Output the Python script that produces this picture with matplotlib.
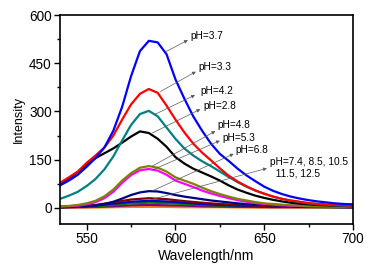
import numpy as np
import matplotlib
matplotlib.use('Agg')
import matplotlib.pyplot as plt
from matplotlib.ticker import MultipleLocator

plt.rcParams['font.family'] = ['Liberation Sans', 'DejaVu Sans']

# wavelength grid (nm) for the strong spectra
wl = np.arange(535, 701, 5)

# intensities
ph37 = [70, 85, 103, 128, 155, 188, 240, 315, 410, 488, 520, 515, 478, 400, 340, 285, 240, 200,
        168, 146, 122, 101, 83, 66, 53, 43, 35, 29, 24, 20, 17, 14, 12, 11]
ph33 = [78, 95, 113, 140, 163, 188, 225, 275, 322, 355, 370, 358, 318, 275, 235, 200, 172, 148,
        123, 100, 82, 67, 54, 44, 35, 28, 23, 19, 15, 12, 10, 9, 8, 7]
ph42 = [28, 38, 50, 68, 90, 120, 160, 210, 258, 292, 302, 285, 250, 215, 185, 163, 145, 130,
        113, 96, 80, 66, 54, 44, 35, 28, 22, 18, 14, 12, 10, 8, 7, 6]
ph28 = [72, 92, 112, 135, 155, 170, 185, 203, 222, 238, 233, 215, 190, 158, 138, 122, 110, 98,
        85, 70, 57, 47, 38, 31, 25, 20, 16, 13, 11, 9, 8, 7, 6, 5]
ph48 = [5, 6, 9, 14, 22, 36, 57, 85, 108, 125, 130, 125, 113, 95, 85, 75, 63, 52,
        43, 35, 28, 23, 18, 14, 12, 10, 8, 7, 6, 5, 5, 4, 4, 4]
ph53 = [4, 5, 7, 11, 18, 30, 50, 78, 102, 117, 121, 116, 103, 85, 75, 65, 54, 45,
        37, 30, 24, 19, 15, 12, 10, 8, 7, 6, 5, 5, 4, 4, 4, 4]
ph68 = [2, 3, 4, 5, 8, 12, 19, 29, 40, 48, 52, 51, 46, 40, 35, 31, 27, 23,
        20, 17, 14, 12, 10, 9, 8, 7, 6, 5, 5, 5, 4, 4, 4, 4]

# coarser grid for the weak spectra near the baseline
wl_low = [535, 545, 555, 565, 575, 585, 595, 605, 615, 625, 640, 655, 670, 685, 700]
ph74 = [3, 5, 9, 17, 26, 30, 27, 21, 16, 12, 8, 5, 4, 3, 3]
ph85 = [2, 4, 7, 13, 19, 22, 20, 16, 12, 9, 6, 4, 3, 3, 2]
ph105 = [2, 3, 5, 9, 14, 16, 15, 12, 9, 7, 5, 3, 3, 2, 2]
ph115 = [1, 2, 3, 5, 8, 9, 8, 7, 5, 4, 3, 2, 2, 2, 1]
ph125 = [0, 1, 1, 2, 3, 3, 3, 2, 2, 2, 1, 1, 1, 1, 1]

fig = plt.figure(figsize=(3.8, 2.65), dpi=100)
ax = fig.add_axes([0.158, 0.155, 0.771, 0.788])

lw = 1.6
ax.plot(wl_low, ph125, color='#ff8000', lw=lw)
ax.plot(wl_low, ph115, color='#800080', lw=lw)
ax.plot(wl_low, ph105, color='#008000', lw=lw)
ax.plot(wl_low, ph85, color='#0000cd', lw=lw)
ax.plot(wl_low, ph74, color='#800000', lw=lw)
ax.plot(wl, ph68, color='#000080', lw=lw)
ax.plot(wl, ph53, color='#ff00ff', lw=lw)
ax.plot(wl, ph48, color='#808000', lw=lw)
ax.plot(wl, ph28, color='black', lw=lw)
ax.plot(wl, ph42, color='#008080', lw=lw)
ax.plot(wl, ph33, color='red', lw=lw)
ax.plot(wl, ph37, color='blue', lw=lw)

# labels with pointer lines
arr = dict(arrowstyle='-|>', color='0.35', lw=0.5, mutation_scale=5, shrinkA=0, shrinkB=0)
notes = [
    ('pH=3.7', (594.5, 486), (607, 522), (608.5, 535)),
    ('pH=3.3', (591.5, 362), (611.5, 424), (613, 439)),
    ('pH=4.2', (588, 290), (611, 351), (614, 365)),
    ('pH=2.8', (587, 233), (614, 307), (615.5, 317)),
    ('pH=4.8', (587, 130), (622.5, 239), (623.5, 258)),
    ('pH=5.3', (587, 118), (625, 209), (626.2, 219)),
    ('pH=6.8', (587, 53), (632.8, 168), (633.8, 180)),
    ('pH=7.4, 8.5, 10.5\n  11.5, 12.5', (586, 25), (651.5, 123), (653.5, 124)),
]
for txt, start, tip, pos in notes:
    ax.annotate('', xy=tip, xytext=start, arrowprops=arr)
    ax.text(pos[0], pos[1], txt, fontsize=7.3, va='center', linespacing=1.2)

ax.set_xlim(535, 700)
ax.set_ylim(-50, 600)
ax.xaxis.set_major_locator(MultipleLocator(50))
ax.xaxis.set_minor_locator(MultipleLocator(25))
ax.yaxis.set_major_locator(MultipleLocator(150))
ax.yaxis.set_minor_locator(MultipleLocator(75))
ax.tick_params(which='major', length=4, width=1, labelsize=9.8, pad=2)
ax.tick_params(which='minor', length=2.5, width=1)
for s in ax.spines.values():
    s.set_linewidth(1.2)

ax.set_xlabel('Wavelength/nm', fontsize=10, labelpad=2)
ax.set_ylabel('Intensity', fontsize=9, labelpad=3)

fig.savefig('out.png', dpi=100)
